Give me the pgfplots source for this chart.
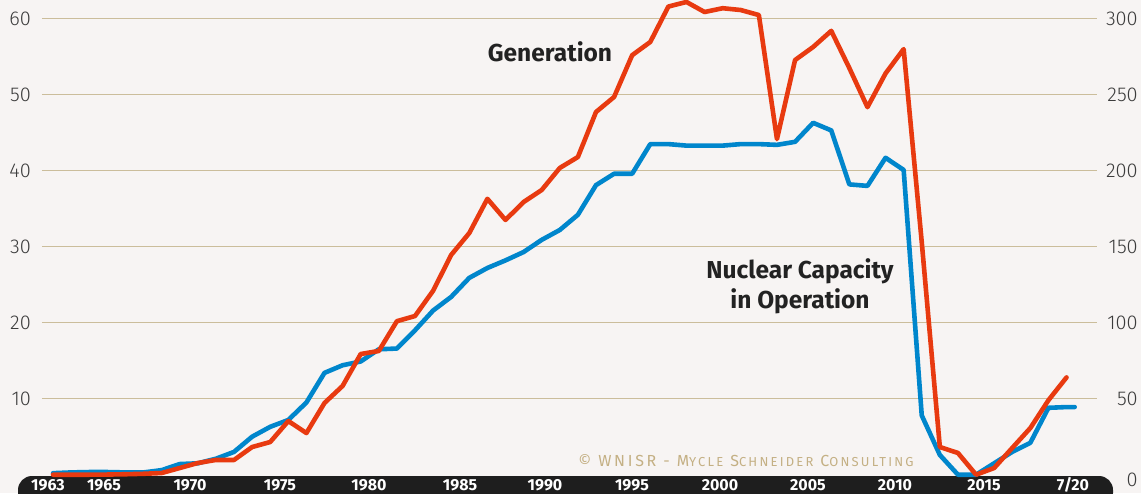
\documentclass[border=0pt]{standalone}
\usepackage{pgfplots}
\pgfplotsset{compat=1.18}
\usepackage{fontspec}
\setmainfont{Fira Sans}
\newfontfamily\lightfont{Fira Sans Light}
\definecolor{bg}{RGB}{247,244,243}
\definecolor{gridc}{RGB}{203,189,155}
\definecolor{capc}{RGB}{0,134,204}
\definecolor{genc}{RGB}{232,58,16}
\definecolor{barc}{RGB}{30,30,30}
\definecolor{tickc}{RGB}{60,60,60}
\definecolor{copyc}{RGB}{196,176,132}
\definecolor{annc}{RGB}{34,34,34}
\newcommand\sm[1]{{\fontsize{13}{13}\selectfont #1}}
\begin{document}
\begin{tikzpicture}[x=1pt,y=1pt]
\useasboundingbox (0,0) rectangle (1141,493);
\fill[bg] (0,0) rectangle (1141,493);
\fill[barc,rounded corners=14pt] (18,-14) rectangle (1113,17);
\begin{axis}[at={(42pt,18.3pt)}, anchor=south west, scale only axis,
  width=1055pt, height=456pt,
  xmin=1962.39, xmax=2020.68, ymin=0, ymax=60,
  axis line style={draw=none}, hide x axis,
  ytick={10,20,...,60}, ymajorgrids,
  grid style={gridc, line width=1.3pt},
  major tick length=0pt,
  tick label style={font=\lightfont\fontsize{20}{24}\selectfont, text=tickc},
  /pgf/number format/assume math mode=true,
  yticklabel style={inner sep=0pt, xshift=-11pt},
  clip=false]
\addplot[capc, line width=4.6pt, line join=round, line cap=round] coordinates {
(1963,0.2) (1964,0.3) (1965,0.35) (1966,0.35) (1967,0.3) (1968,0.3) (1969,0.6)
(1970,1.4) (1971,1.5) (1972,2.1) (1973,3.0) (1974,5.0) (1975,6.3) (1976,7.2)
(1977,9.5) (1978,13.4) (1979,14.4) (1980,14.9) (1981,16.5) (1982,16.6) (1983,19.0)
(1984,21.6) (1985,23.4) (1986,25.9) (1987,27.2) (1988,28.2) (1989,29.3) (1990,30.9)
(1991,32.2) (1992,34.2) (1993,38.1) (1994,39.6) (1995,39.6) (1996,43.5) (1997,43.5)
(1998,43.3) (1999,43.3) (2000,43.3) (2001,43.5) (2002,43.5) (2003,43.4) (2004,43.8)
(2005,46.3) (2006,45.3) (2007,38.2) (2008,38.0) (2009,41.7) (2010,40.1) (2011,7.8)
(2012,2.6) (2013,0) (2014,0) (2015,1.5) (2016,3.0) (2017,4.2) (2018,8.8) (2019,8.9)
(2019.45,8.9)};
\end{axis}
\begin{axis}[at={(42pt,18.3pt)}, anchor=south west, scale only axis,
  width=1055pt, height=456pt,
  xmin=1962.39, xmax=2020.68, ymin=0, ymax=300,
  axis y line*=right, axis line style={draw=none}, hide x axis,
  ytick={50,100,...,300}, extra y ticks={0},
  extra y tick style={yticklabel style={yshift=-5pt}},
  major tick length=0pt,
  tick label style={font=\lightfont\fontsize{20}{24}\selectfont, text=tickc},
  /pgf/number format/assume math mode=true,
  yticklabel style={anchor=east, inner sep=0pt, xshift=41pt},
  clip=false]
\addplot[genc, line width=4.6pt, line join=round, line cap=round] coordinates {
(1963,0) (1964,0) (1965,0) (1966,0.1) (1967,0.3) (1968,0.6) (1969,1.1)
(1970,4.4) (1971,7.7) (1972,9.7) (1973,9.7) (1974,18.2) (1975,21.5) (1976,35.3)
(1977,27.4) (1978,47.2) (1979,58.4) (1980,79.4) (1981,81.4) (1982,101) (1983,104.4)
(1984,121) (1985,144.6) (1986,159) (1987,181.5) (1988,167.6) (1989,179.4) (1990,187.3)
(1991,201.8) (1992,209) (1993,238.6) (1994,248.5) (1995,276) (1996,284.7) (1997,308)
(1998,311) (1999,304.4) (2000,306.9) (2001,305.7) (2002,302.4) (2003,220.8) (2004,272.8)
(2005,281.4) (2006,292) (2007,267.5) (2008,241.8) (2009,264) (2010,280) (2011,153)
(2012,18.2) (2013,14.3) (2014,0) (2015,4.4) (2016,17.6) (2017,30.7) (2018,49) (2019,64)};
\end{axis}
\node[anchor=base, text=annc, font=\bfseries\fontsize{24.5}{28}\selectfont] at (550,431) {Generation};
\node[anchor=base, text=annc, font=\bfseries\fontsize{24.5}{28}\selectfont] at (800,214) {Nuclear Capacity};
\node[anchor=base, text=annc, font=\bfseries\fontsize{24.5}{28}\selectfont] at (800,184) {in Operation};
\node[anchor=base, text=copyc, font=\addfontfeature{LetterSpace=17}\fontsize{16}{16}\selectfont] at (746,27)
  {© WNISR - M\sm{YCLE} S\sm{CHNEIDER} C\sm{ONSULTING}};
\begin{scope}[every node/.style={anchor=base, text=white, inner sep=0pt, font=\bfseries\fontsize{16}{16}\selectfont}]
\node at (48,3) {1963};
\node at (104,3) {1965};
\node at (190,3) {1970};
\node at (280,3) {1975};
\node at (369,3) {1980};
\node at (460,3) {1985};
\node at (545,3) {1990};
\node at (632,3) {1995};
\node at (720,3) {2000};
\node at (808,3) {2005};
\node at (895,3) {2010};
\node at (984,3) {2015};
\node at (1073,3) {7/20};
\end{scope}
\end{tikzpicture}
\end{document}
